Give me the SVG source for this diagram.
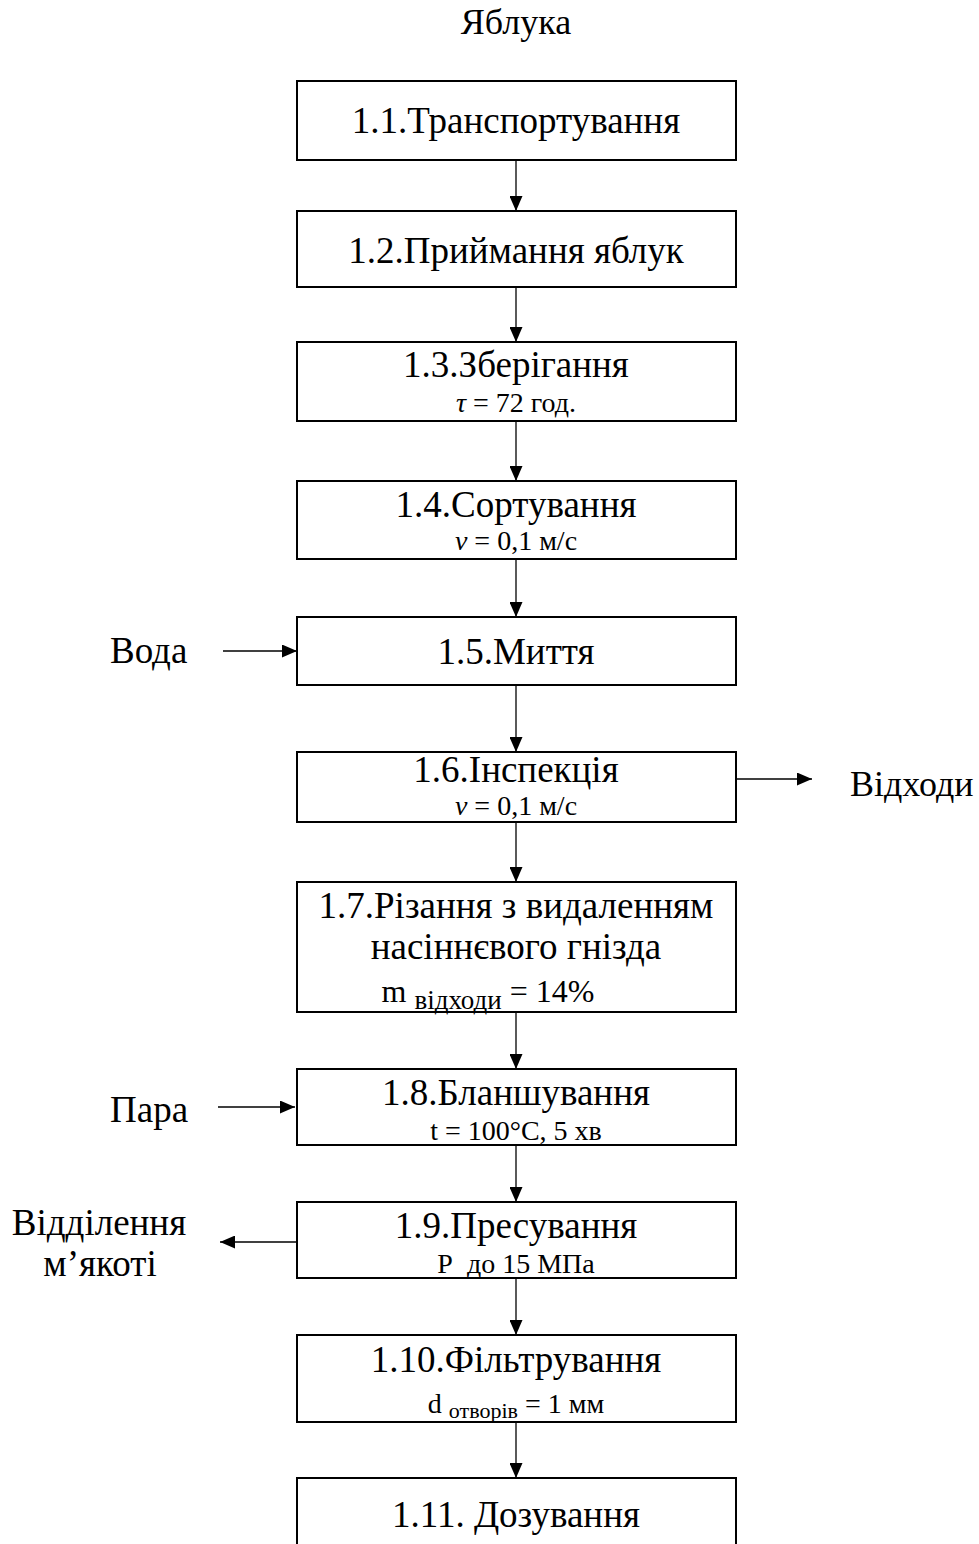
<svg xmlns="http://www.w3.org/2000/svg" width="979" height="1544" viewBox="0 0 979 1544">
<style>
text{font-family:"Liberation Serif","Times New Roman",serif;fill:#000}
.m{font-size:37px;text-anchor:middle}
.s{font-size:28px;text-anchor:middle}
.l{font-size:37px}
.box{fill:#fff;stroke:#000;stroke-width:2}
.c{stroke:#000;stroke-width:1.3;fill:none}
</style>
<defs>
<marker id="ah" markerWidth="15" markerHeight="13" refX="15" refY="6.5" orient="auto" markerUnits="userSpaceOnUse">
<path d="M0,0 L15,6.5 L0,13 Z" fill="#000"/>
</marker>
</defs>
<text class="m" x="516" y="34" style="font-size:36px">Яблука</text>
<g id="n1"><rect class="box" x="297" y="81" width="439" height="79"/><text class="m" x="516" y="133">1.1.Транспортування</text></g>
<g id="n2"><rect class="box" x="297" y="211" width="439" height="76"/><text class="m" x="516" y="263">1.2.Приймання яблук</text></g>
<g id="n3"><rect class="box" x="297" y="342" width="439" height="79"/><text class="m" x="516" y="377">1.3.Зберігання</text><text class="s" x="516" y="412"><tspan font-style="italic">τ</tspan> = 72 год.</text></g>
<g id="n4"><rect class="box" x="297" y="481" width="439" height="78"/><text class="m" x="516" y="517">1.4.Сортування</text><text class="s" x="516" y="550"><tspan font-style="italic">v</tspan> = 0,1 м/с</text></g>
<g id="n5"><rect class="box" x="297" y="617" width="439" height="68"/><text class="m" x="516" y="664">1.5.Миття</text></g>
<g id="n6"><rect class="box" x="297" y="752" width="439" height="70"/><text class="m" x="516" y="782">1.6.Інспекція</text><text class="s" x="516" y="815"><tspan font-style="italic">v</tspan> = 0,1 м/с</text></g>
<g id="n7"><rect class="box" x="297" y="882" width="439" height="130"/><text class="m" x="516" y="918">1.7.Різання з видаленням</text><text class="m" x="516" y="959">насіннєвого гнізда</text><text class="s" x="488" y="1002" style="font-size:32px">m <tspan font-size="27" dy="7">відходи</tspan><tspan dy="-7"> = 14%</tspan></text></g>
<g id="n8"><rect class="box" x="297" y="1069" width="439" height="76"/><text class="m" x="516" y="1105">1.8.Бланшування</text><text class="s" x="516" y="1140">t = 100°С, 5 хв</text></g>
<g id="n9"><rect class="box" x="297" y="1202" width="439" height="76"/><text class="m" x="516" y="1238">1.9.Пресування</text><text class="s" x="516" y="1273" xml:space="preserve">Р  до 15 МПа</text></g>
<g id="n10"><rect class="box" x="297" y="1335" width="439" height="87"/><text class="m" x="516" y="1372">1.10.Фільтрування</text><text class="s" x="516" y="1413">d <tspan font-size="22" dy="5">отворів</tspan><tspan dy="-5"> = 1 мм</tspan></text></g>
<g id="n11"><rect class="box" x="297" y="1478" width="439" height="80"/><text class="m" x="516" y="1527">1.11. Дозування</text></g>
<g id="lbls">
<text class="l" x="110" y="663">Вода</text>
<text class="l" x="850" y="796" style="font-size:36px">Відходи</text>
<text class="l" x="110" y="1122">Пара</text>
<text class="l" x="99" y="1235" text-anchor="middle">Відділення</text>
<text class="l" x="100" y="1276" text-anchor="middle">м’якоті</text>
</g>
<g id="connectors">
<line class="c" x1="516" y1="160" x2="516" y2="211" marker-end="url(#ah)"/>
<line class="c" x1="516" y1="287" x2="516" y2="342" marker-end="url(#ah)"/>
<line class="c" x1="516" y1="421" x2="516" y2="481" marker-end="url(#ah)"/>
<line class="c" x1="516" y1="559" x2="516" y2="617" marker-end="url(#ah)"/>
<line class="c" x1="516" y1="685" x2="516" y2="752" marker-end="url(#ah)"/>
<line class="c" x1="516" y1="822" x2="516" y2="882" marker-end="url(#ah)"/>
<line class="c" x1="516" y1="1012" x2="516" y2="1069" marker-end="url(#ah)"/>
<line class="c" x1="516" y1="1145" x2="516" y2="1202" marker-end="url(#ah)"/>
<line class="c" x1="516" y1="1278" x2="516" y2="1335" marker-end="url(#ah)"/>
<line class="c" x1="516" y1="1422" x2="516" y2="1478" marker-end="url(#ah)"/>
<line class="c" x1="223" y1="651" x2="297" y2="651" marker-end="url(#ah)"/>
<line class="c" x1="736" y1="779" x2="812" y2="779" marker-end="url(#ah)"/>
<line class="c" x1="218" y1="1107" x2="295" y2="1107" marker-end="url(#ah)"/>
<line class="c" x1="297" y1="1242" x2="220" y2="1242" marker-end="url(#ah)"/>
</g>
</svg>
